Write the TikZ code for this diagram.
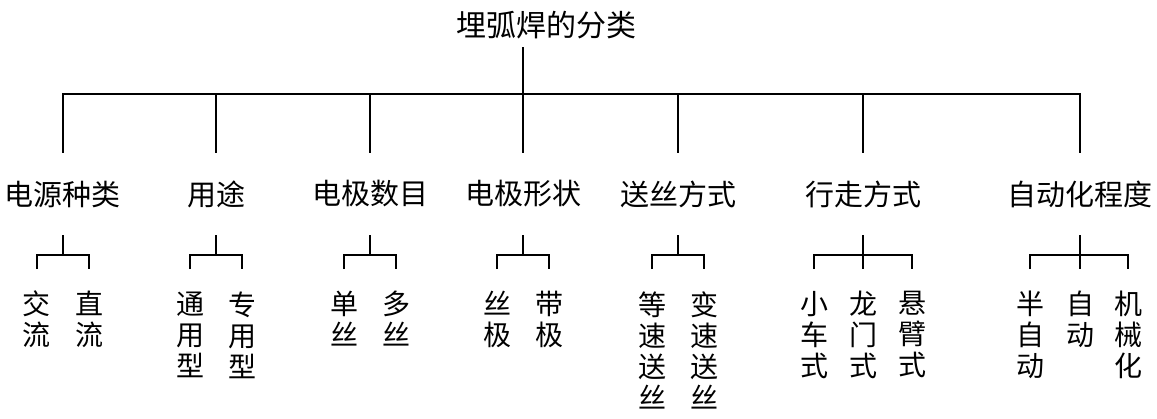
\documentclass[tikz,border=0pt]{standalone}
\usepackage{fontspec}
\setmainfont{Noto Sans CJK SC}
\usetikzlibrary{positioning, calc}

\begin{document}
\begin{tikzpicture}[x=1pt, y=-1pt,
    title/.style={font=\fontsize{30pt}{34pt}\selectfont, inner xsep=0pt, inner ysep=8pt},
    kind/.style={font=\fontsize{29pt}{33pt}\selectfont, inner xsep=0pt, inner ysep=27.5pt},
    leaf/.style={font=\fontsize{28pt}{31pt}\selectfont, align=center, inner xsep=0pt, inner ysep=22pt},
    main/.style={line width=1.1pt},
    sub/.style={line width=1.8pt},
]
    \useasboundingbox (0,0) rectangle (1157,419);

    \node[title] (root) at (546,25) {埋弧焊的分类};
    \coordinate (bus) at (522,94);

    \node[kind] (k1) at (63,194)   {电源种类};
    \node[kind] (k2) at (216,194)  {用途};
    \node[kind] (k3) at (370,194)  {电极数目};
    \node[kind] (k4) at (523,194)  {电极形状};
    \node[kind] (k5) at (678,194)  {送丝方式};
    \node[kind] (k6) at (863,194)  {行走方式};
    \node[kind] (k7) at (1080,194) {自动化程度};

    \draw[main] (root.south -| k4) -- (k4.north);
    \draw[main] (k1.north) -- (k1.north |- bus) -- (k7.north |- bus) -- (k7.north);
    \foreach \i in {2,3,5,6}
        \draw[main] (k\i.north |- bus) -- (k\i.north);

    \foreach \i in {1,...,7}
        \coordinate[below=20pt of k\i] (j\i);

    \node[leaf, below=14pt of j1, xshift=-26pt] (l1a) {交\\流};
    \node[leaf, below=14pt of j1, xshift=26pt]  (l1b) {直\\流};
    \node[leaf, below=14pt of j2, xshift=-26pt] (l2a) {通\\用\\型};
    \node[leaf, below=14pt of j2, xshift=26pt]  (l2b) {专\\用\\型};
    \node[leaf, below=14pt of j3, xshift=-26pt] (l3a) {单\\丝};
    \node[leaf, below=14pt of j3, xshift=26pt]  (l3b) {多\\丝};
    \node[leaf, below=14pt of j4, xshift=-26pt] (l4a) {丝\\极};
    \node[leaf, below=14pt of j4, xshift=26pt]  (l4b) {带\\极};
    \node[leaf, below=14pt of j5, xshift=-26pt] (l5a) {等\\速\\送\\丝};
    \node[leaf, below=14pt of j5, xshift=26pt]  (l5b) {变\\速\\送\\丝};
    \node[leaf, below=14pt of j6, xshift=-49pt] (l6a) {小\\车\\式};
    \node[leaf, below=14pt of j6]               (l6b) {龙\\门\\式};
    \node[leaf, below=14pt of j6, xshift=49pt]  (l6c) {悬\\臂\\式};
    \node[leaf, below=14pt of j7, xshift=-50pt] (l7a) {半\\自\\动};
    \node[leaf, below=14pt of j7]               (l7b) {自\\动};
    \node[leaf, below=14pt of j7, xshift=48pt]  (l7c) {机\\械\\化};

    \foreach \i in {1,...,5}
        \draw[sub] (k\i.south) -- (j\i) (l\i a.north) |- (j\i) -| (l\i b.north);
    \foreach \i in {6,7}
        \draw[sub] (k\i.south) -- (l\i b.north) (l\i a.north) |- (j\i) -| (l\i c.north);
\end{tikzpicture}
\end{document}
